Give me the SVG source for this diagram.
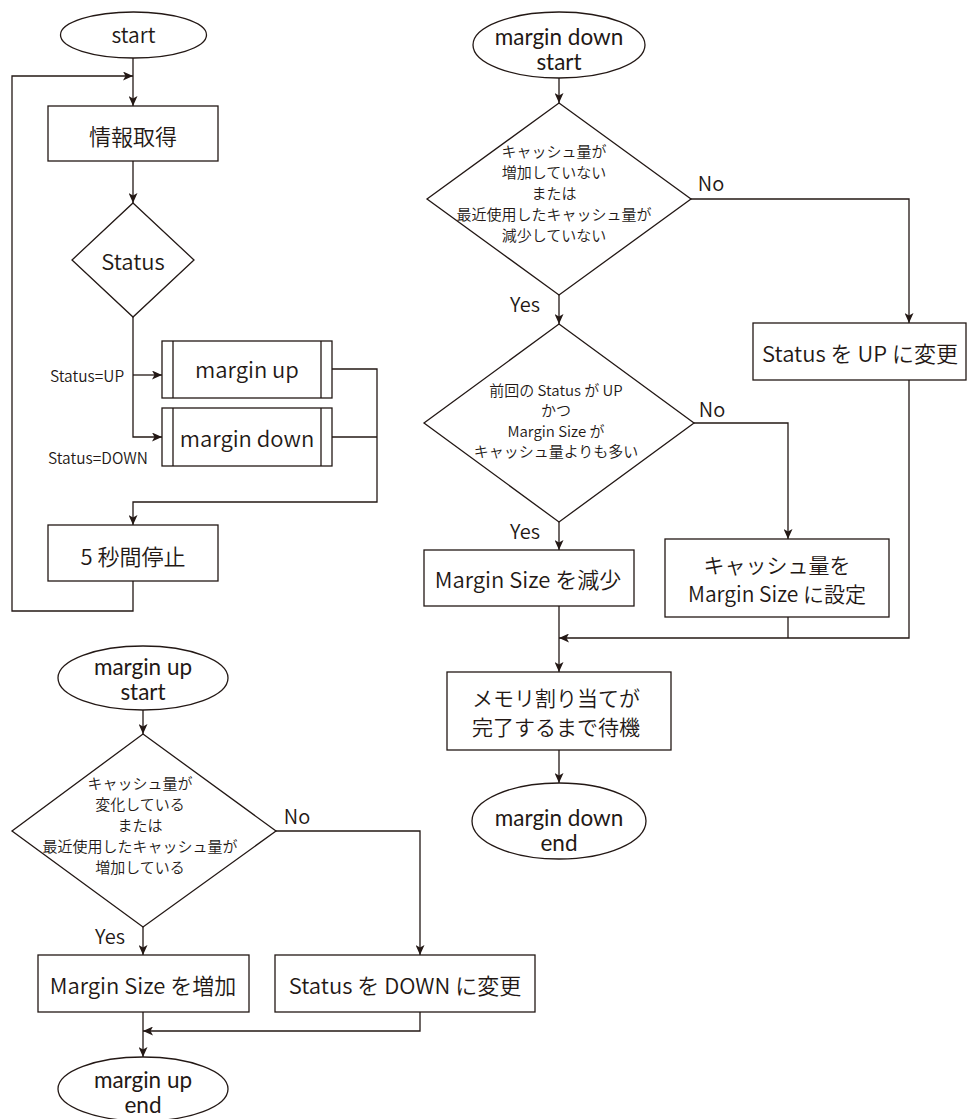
<svg xmlns="http://www.w3.org/2000/svg" width="968" height="1119" viewBox="0 0 968 1119">
  <defs>
    <marker id="ah" viewBox="0 0 10 9" refX="10" refY="4.5" markerWidth="10" markerHeight="9" markerUnits="userSpaceOnUse" orient="auto">
      <path d="M0,0 L10,4.5 L0,9 L2.5,4.5 z" fill="#231815"/>
    </marker>
    <style>
      .shape { fill: #ffffff; stroke: #231815; stroke-width: 1.3; }
      .edge { fill: none; stroke: #231815; stroke-width: 1.3; }
      .arrow { marker-end: url(#ah); }
      text { font-family: "Noto Sans CJK JP", "Noto Sans", sans-serif; font-weight: 350; fill: #231815; dominant-baseline: central; text-anchor: middle; }
      .term { font-family: Lato, "Noto Sans", sans-serif; font-weight: 400; font-size: 22.5px; }
      .t22 { font-size: 22px; }
      .t21 { font-size: 21px; }
      .t20 { font-size: 20px; }
      .t155 { font-size: 15.5px; }
      .t15 { font-size: 15px; }
    </style>
  </defs>
  <rect width="968" height="1119" fill="#ffffff"/>

  <!-- connectors -->
  <g id="connectors">
    <!-- main loop -->
    <path class="edge arrow" d="M133,58 V106"/>
    <path class="edge arrow" d="M133,581 V611 H12 V76 H133"/>
    <path class="edge arrow" d="M133,161 V203"/>
    <path class="edge arrow" d="M133,317 V437 H162"/>
    <path class="edge arrow" d="M133,375 H162"/>
    <path class="edge arrow" d="M332,369 H377 V502 H133 V525"/>
    <path class="edge" d="M332,437 H377"/>

    <!-- margin down -->
    <path class="edge arrow" d="M559,78 V103"/>
    <path class="edge arrow" d="M691,199 H909 V323"/>
    <path class="edge arrow" d="M559,295 V324"/>
    <path class="edge arrow" d="M694,423 H788 V539"/>
    <path class="edge arrow" d="M559,522 V550"/>
    <path class="edge arrow" d="M909,380 V638 H559"/>
    <path class="edge" d="M788,617 V638"/>
    <path class="edge arrow" d="M559,606 V672"/>
    <path class="edge arrow" d="M559,750 V783"/>

    <!-- margin up -->
    <path class="edge arrow" d="M143,710 V734"/>
    <path class="edge arrow" d="M276,831 H420 V955"/>
    <path class="edge arrow" d="M143,927 V955"/>
    <path class="edge arrow" d="M420,1012 V1031 H143"/>
    <path class="edge arrow" d="M143,1012 V1057"/>
  </g>

  <!-- main loop nodes -->
  <g id="start">
    <ellipse class="shape" cx="133.5" cy="35" rx="73" ry="23"/>
    <text class="t21" x="133.5" y="34">start</text>
  </g>
  <g id="fetch">
    <rect class="shape" x="48" y="106" width="170" height="55"/>
    <text class="t22" x="133" y="135">情報取得</text>
  </g>
  <g id="status">
    <polygon class="shape" points="133,203 194,260 133,317 72,260"/>
    <text class="t22" x="133" y="260">Status</text>
  </g>
  <g id="label-up">
    <text class="t155" x="50" y="375" style="text-anchor:start">Status=UP</text>
  </g>
  <g id="label-down">
    <text class="t155" x="48" y="457" style="text-anchor:start">Status=DOWN</text>
  </g>
  <g id="call-margin-up">
    <rect class="shape" x="162" y="341" width="170" height="57"/>
    <path class="edge" d="M173,341 V398 M321,341 V398"/>
    <text class="t22" x="247" y="368">margin up</text>
  </g>
  <g id="call-margin-down">
    <rect class="shape" x="162" y="408" width="170" height="58"/>
    <path class="edge" d="M173,408 V466 M321,408 V466"/>
    <text class="t22" x="247" y="437">margin down</text>
  </g>
  <g id="wait5">
    <rect class="shape" x="48" y="525" width="170" height="56"/>
    <text class="t22" x="133" y="555">5 秒間停止</text>
  </g>

  <!-- margin down nodes -->
  <g id="md-start">
    <ellipse class="shape" cx="559" cy="45" rx="86" ry="33"/>
    <text class="term" x="559" y="36">margin down</text>
    <text class="term" x="559" y="61">start</text>
  </g>
  <g id="md-check1">
    <polygon class="shape" points="559,103 691,199 559,295 427,199"/>
    <text class="t15" x="554" y="150">キャッシュ量が</text>
    <text class="t15" x="554" y="171">増加していない</text>
    <text class="t15" x="554" y="192">または</text>
    <text class="t15" x="554" y="213">最近使用したキャッシュ量が</text>
    <text class="t15" x="554" y="234">減少していない</text>
  </g>
  <g id="md-no1"><text class="t20" x="711" y="182">No</text></g>
  <g id="md-yes1"><text class="t20" x="525" y="303">Yes</text></g>
  <g id="md-set-up">
    <rect class="shape" x="753" y="323" width="213" height="57"/>
    <text class="t22" x="860" y="352">Status を UP に変更</text>
  </g>
  <g id="md-check2">
    <polygon class="shape" points="559,324 694,423 559,522 424,423"/>
    <text class="t15" x="556" y="389">前回の Status が UP</text>
    <text class="t15" x="556" y="409.5">かつ</text>
    <text class="t15" x="556" y="430">Margin Size が</text>
    <text class="t15" x="556" y="450.5">キャッシュ量よりも多い</text>
  </g>
  <g id="md-no2"><text class="t20" x="712" y="408">No</text></g>
  <g id="md-yes2"><text class="t20" x="525" y="530">Yes</text></g>
  <g id="md-decrease">
    <rect class="shape" x="424" y="550" width="210" height="56"/>
    <text class="t22" x="528" y="578">Margin Size を減少</text>
  </g>
  <g id="md-set-size">
    <rect class="shape" x="665" y="539" width="224" height="78"/>
    <text class="t21" x="777" y="564">キャッシュ量を</text>
    <text class="t21" x="777" y="593">Margin Size に設定</text>
  </g>
  <g id="md-wait">
    <rect class="shape" x="447" y="672" width="224" height="78"/>
    <text class="t21" x="556" y="697">メモリ割り当てが</text>
    <text class="t21" x="556" y="726">完了するまで待機</text>
  </g>
  <g id="md-end">
    <ellipse class="shape" cx="559" cy="821" rx="87" ry="38"/>
    <text class="term" x="559" y="817">margin down</text>
    <text class="term" x="559" y="842">end</text>
  </g>

  <!-- margin up nodes -->
  <g id="mu-start">
    <ellipse class="shape" cx="143" cy="678" rx="85" ry="32"/>
    <text class="term" x="143" y="666">margin up</text>
    <text class="term" x="143" y="691">start</text>
  </g>
  <g id="mu-check">
    <polygon class="shape" points="143,734 276,831 143,927 12,831"/>
    <text class="t15" x="140" y="782">キャッシュ量が</text>
    <text class="t15" x="140" y="803">変化している</text>
    <text class="t15" x="140" y="824">または</text>
    <text class="t15" x="140" y="845">最近使用したキャッシュ量が</text>
    <text class="t15" x="140" y="866">増加している</text>
  </g>
  <g id="mu-no"><text class="t20" x="297" y="815">No</text></g>
  <g id="mu-yes"><text class="t20" x="110" y="935">Yes</text></g>
  <g id="mu-increase">
    <rect class="shape" x="38" y="955" width="211" height="57"/>
    <text class="t22" x="143" y="984">Margin Size を増加</text>
  </g>
  <g id="mu-set-down">
    <rect class="shape" x="275" y="955" width="260" height="57"/>
    <text class="t22" x="405" y="984">Status を DOWN に変更</text>
  </g>
  <g id="mu-end">
    <ellipse class="shape" cx="143" cy="1089" rx="85" ry="32"/>
    <text class="term" x="143" y="1079">margin up</text>
    <text class="term" x="143" y="1104">end</text>
  </g>
</svg>
